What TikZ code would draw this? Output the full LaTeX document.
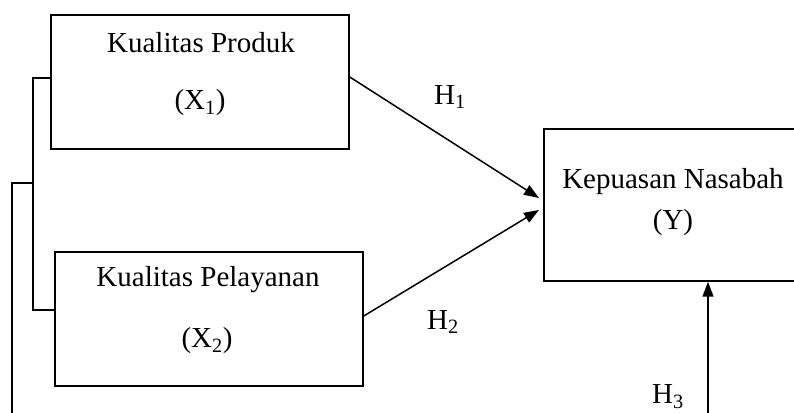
\documentclass[tikz,border=0pt]{standalone}
\usepackage{fontspec}
\setmainfont{Liberation Serif}
\usetikzlibrary{arrows.meta}
\begin{document}
\begin{tikzpicture}[x=1pt,y=1pt,
  box/.style={draw,line width=1.5pt,minimum width=#1,inner sep=0pt},
  lbl/.style={font=\fontsize{29}{32}\selectfont,inner sep=0pt},
  conn/.style={line width=1.5pt},
  arr/.style={line width=1.5pt,-{Triangle[length=15pt,width=11pt]}}]
\useasboundingbox (0,0) rectangle (794,412);
\clip (0,0) rectangle (794,412);
\node[box=298pt,minimum height=134pt] (X1) at (200,330) {};
\node[box=308pt,minimum height=134pt] (X2) at (209,93) {};
\node[box=258pt,minimum height=152pt] (Y) at (673,207) {};
\node[lbl] (t1) at (201,369) {Kualitas Produk};
\node[lbl] (t1b) at (200,309) {(X\textsubscript{1})};
\node[lbl] (t2) at (208,132) {Kualitas Pelayanan};
\node[lbl] (t2b) at (207,71) {(X\textsubscript{2})};
\node[lbl] (t3) at (673,230) {Kepuasan Nasabah};
\node[lbl] (t3b) at (673,189) {(Y)};
\node[lbl] (h1) at (450,315) {H\textsubscript{1}};
\node[lbl] (h2) at (443,90) {H\textsubscript{2}};
\node[lbl] (h3) at (668,15) {H\textsubscript{3}};
\coordinate (b1) at (33,334);
\coordinate (b2) at (33,102);
\coordinate (c1) at (12,229);
\coordinate (c2) at (12,-2);
\draw[conn] (X1.west |- b1) -- (b1) -- (b2) -- (X2.west |- b2);
\draw[conn] (c2) -- (c1) -- (b1 |- c1);
\coordinate (e1) at (539,214);
\coordinate (e2) at (539,202);
\coordinate (s1) at (349,335);
\coordinate (s2) at (363,96);
\draw[arr] (X1.east |- s1) -- (e1);
\draw[arr] (X2.east |- s2) -- (e2);
\coordinate (s3) at (708,-2);
\draw[arr] (s3) -- (Y.south -| s3);
\end{tikzpicture}
\end{document}
